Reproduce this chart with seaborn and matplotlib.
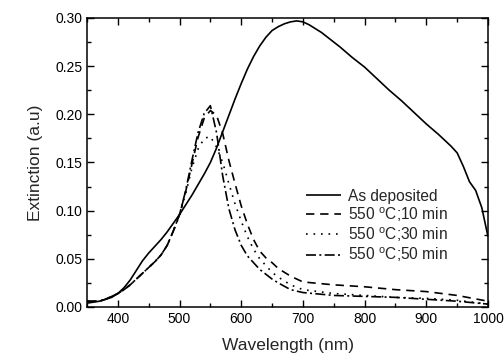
import numpy as np
import pandas as pd
import matplotlib
matplotlib.use("Agg")
import matplotlib.pyplot as plt
import seaborn as sns
from matplotlib.ticker import MultipleLocator, FormatStrFormatter

# ---------------- data ----------------
wl_dep = [350, 360, 370, 380, 390, 400, 410, 420, 430, 440, 450, 460, 470, 480, 490,
          500, 510, 520, 530, 540, 550, 560, 570, 580, 590, 600, 610, 620, 630, 640,
          650, 660, 670, 680, 690, 700, 710, 720, 730, 740, 750, 760, 780, 800, 820,
          840, 860, 880, 900, 920, 940, 950, 960, 970, 980, 990, 1000]
ext_dep = [0.004, 0.005, 0.006, 0.008, 0.010, 0.014, 0.020, 0.028, 0.038, 0.048, 0.056,
           0.063, 0.070, 0.078, 0.087, 0.096, 0.106, 0.116, 0.127, 0.138, 0.150, 0.165,
           0.182, 0.199, 0.216, 0.232, 0.247, 0.260, 0.271, 0.280, 0.287, 0.291, 0.294,
           0.296, 0.297, 0.296, 0.293, 0.289, 0.285, 0.280, 0.275, 0.270, 0.259, 0.249,
           0.237, 0.225, 0.214, 0.202, 0.190, 0.179, 0.167, 0.160, 0.146, 0.130, 0.121,
           0.103, 0.073]

wl_ann = [350, 360, 370, 380, 390, 400, 410, 420, 430, 440, 450, 460, 470, 480, 490,
          500, 510, 520, 530, 540, 550, 560, 570, 580, 590, 600, 610, 620, 630, 640,
          650, 660, 680, 700, 750, 800, 850, 900, 950, 1000]
ext_10 = [0.006, 0.006, 0.006, 0.008, 0.011, 0.014, 0.018, 0.023, 0.029, 0.035, 0.041,
          0.047, 0.054, 0.064, 0.079, 0.096, 0.120, 0.148, 0.176, 0.196, 0.204, 0.199,
          0.180, 0.152, 0.128, 0.105, 0.086, 0.070, 0.058, 0.051, 0.046, 0.040, 0.032,
          0.026, 0.023, 0.021, 0.018, 0.016, 0.012, 0.006]
ext_30 = [0.006, 0.006, 0.006, 0.008, 0.011, 0.014, 0.018, 0.023, 0.029, 0.035, 0.041,
          0.047, 0.054, 0.064, 0.079, 0.095, 0.118, 0.144, 0.164, 0.175, 0.177, 0.166,
          0.150, 0.128, 0.107, 0.089, 0.073, 0.060, 0.050, 0.043, 0.036, 0.031, 0.023,
          0.018, 0.014, 0.012, 0.010, 0.009, 0.007, 0.003]
ext_50 = [0.006, 0.006, 0.006, 0.008, 0.011, 0.014, 0.018, 0.023, 0.029, 0.035, 0.041,
          0.047, 0.054, 0.064, 0.079, 0.096, 0.121, 0.152, 0.181, 0.201, 0.209, 0.181,
          0.136, 0.102, 0.080, 0.064, 0.053, 0.046, 0.039, 0.034, 0.029, 0.025, 0.018,
          0.015, 0.012, 0.011, 0.010, 0.008, 0.006, 0.003]

labels = ["As deposited", "550 $^{\\mathregular{o}}$C;10 min",
          "550 $^{\\mathregular{o}}$C;30 min", "550 $^{\\mathregular{o}}$C;50 min"]

# ---------------- plotting ----------------
sns.set_style("ticks")
plt.rcParams['font.family'] = ['Liberation Sans', 'DejaVu Sans']

fig = plt.figure(figsize=(5.04, 3.59), dpi=100)
ax = fig.add_axes([87 / 504, 1 - 307 / 359, (488 - 87) / 504, (307 - 18) / 359])

series = [
    (wl_dep, ext_dep, labels[0], (0, ())),
    (wl_ann, ext_10, labels[1], (0, (5, 3.5))),
    (wl_ann, ext_30, labels[2], (0, (1, 3.5))),
    (wl_ann, ext_50, labels[3], (0, (6, 2, 1.2, 2))),
]
for x, y, lab, ls in series:
    df = pd.DataFrame({"wl": x, "ext": y})
    sns.lineplot(data=df, x="wl", y="ext", ax=ax, color="black", lw=1.2,
                 linestyle=ls, label=lab, legend=True)

ax.set_xlim(350, 1000)
ax.set_ylim(0, 0.30)
ax.xaxis.set_major_locator(MultipleLocator(100))
ax.xaxis.set_minor_locator(MultipleLocator(50))
ax.yaxis.set_major_locator(MultipleLocator(0.05))
ax.yaxis.set_minor_locator(MultipleLocator(0.025))
ax.yaxis.set_major_formatter(FormatStrFormatter('%.2f'))
ax.set_xticks([400, 500, 600, 700, 800, 900, 1000])
ax.tick_params(which='both', direction='in', top=True, right=True, colors='black',
               labelsize=10)
ax.tick_params(which='major', length=5, width=1)
ax.tick_params(which='minor', length=3, width=1)
for s in ax.spines.values():
    s.set_linewidth(1.1)
    s.set_color('black')

ax.set_xlabel("Wavelength (nm)", fontsize=12.5, labelpad=9)
ax.set_ylabel("Extinction (a.u)", fontsize=12.5, labelpad=9)

leg = ax.legend(loc='upper left', bbox_to_anchor=(0.545, 0.41), frameon=False,
                fontsize=11.2, handlelength=2.3, handletextpad=0.4,
                labelspacing=0.1, borderpad=0, borderaxespad=0)

fig.savefig("out.png", dpi=100)
